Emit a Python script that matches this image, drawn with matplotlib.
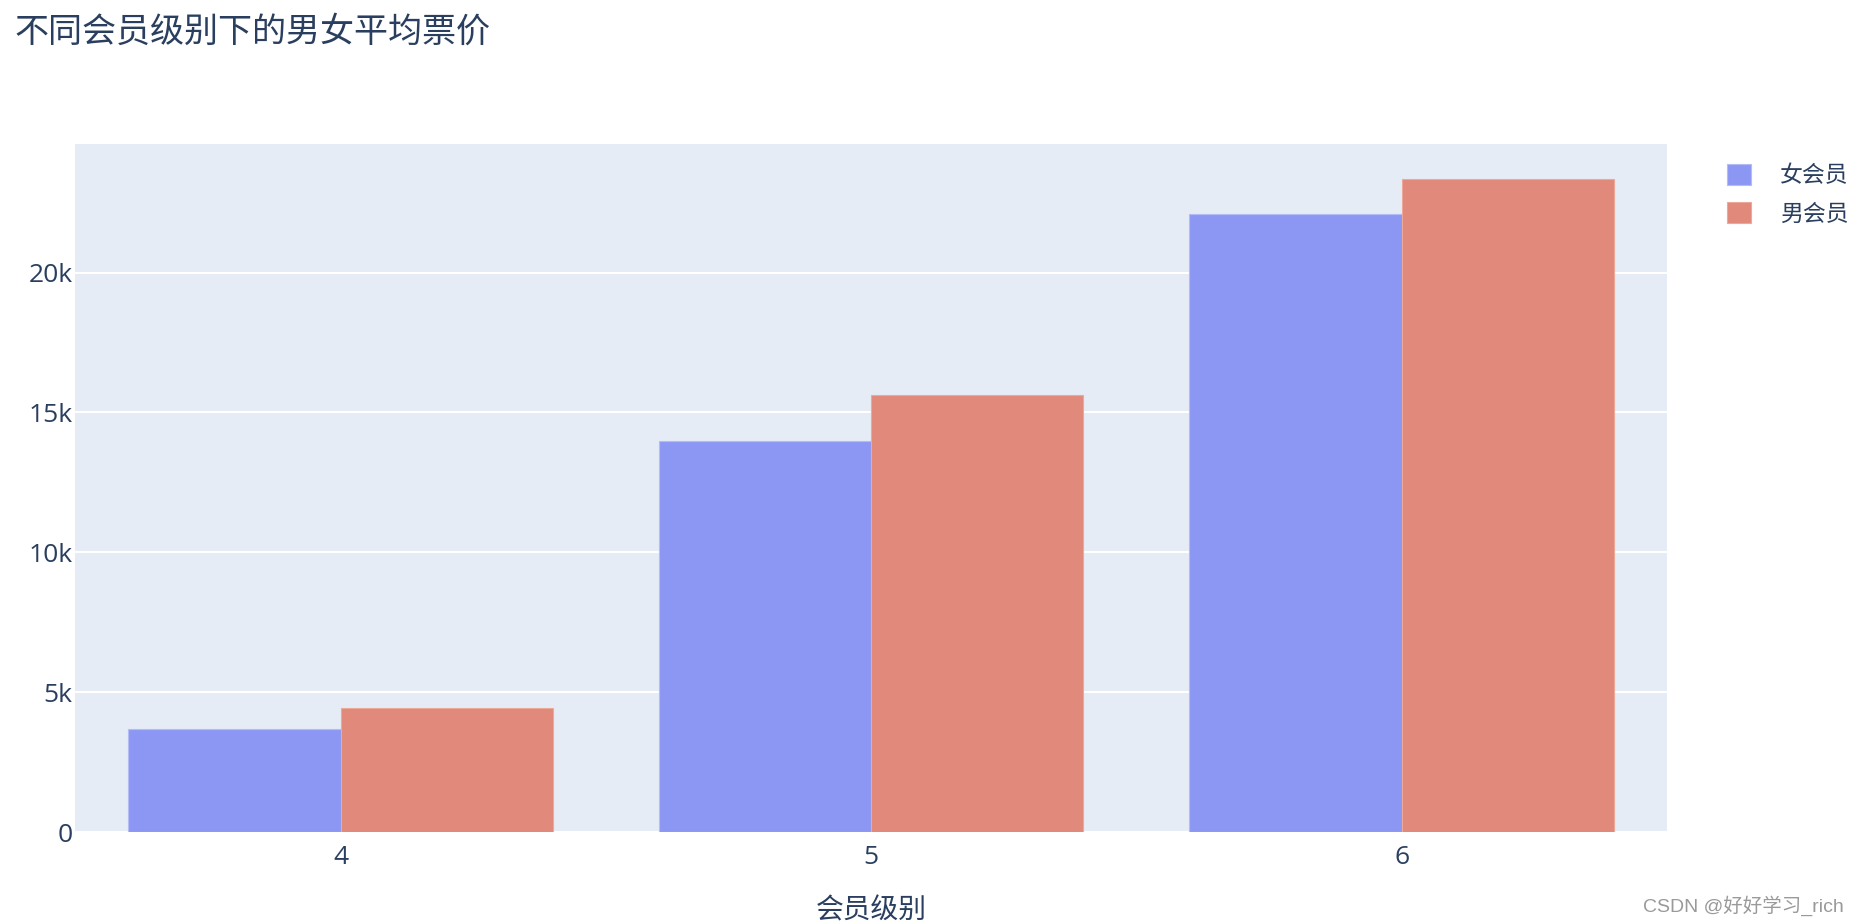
import matplotlib
matplotlib.use("Agg")
import matplotlib.pyplot as plt
import numpy as np

# data
levels = [4, 5, 6]
female_price = [3690, 13980, 22100]
male_price = [4450, 15630, 23350]
series_names = ["女会员", "男会员"]
y_ticks = [0, 5000, 10000, 15000, 20000]
y_tick_labels = ["0", "5k", "10k", "15k", "20k"]

FONT = ["Open Sans", "Noto Sans CJK SC", "DejaVu Sans"]
plt.rcParams["font.family"] = FONT
INK = "#2a3f5f"
BG = "#E5ECF6"
W, H = 1859, 924

fig = plt.figure(figsize=(W / 100, H / 100), dpi=100)
ax = fig.add_axes([75.3 / W, (H - 832) / H, (1667 - 75.3) / W, (832 - 143.7) / H])
ax.set_facecolor(BG)

w = 0.4
x = np.array(levels, dtype=float)
ax.bar(x - w, female_price, width=w, align="edge", color="#8B97F2",
       edgecolor="#B3BCF5", linewidth=0.8, label=series_names[0], zorder=3)
ax.bar(x, male_price, width=w, align="edge", color="#E1897A",
       edgecolor="#EDA899", linewidth=0.8, label=series_names[1], zorder=3)

ax.set_xlim(3.5, 6.5)
ax.set_ylim(0, 24611)
ax.set_xticks(levels)
ax.set_xticklabels([str(v) for v in levels])
ax.set_yticks(y_ticks)
ax.set_yticklabels(y_tick_labels)
ax.tick_params(axis="both", length=0, labelsize=19, colors=INK)
ax.tick_params(axis="y", pad=2)
ax.tick_params(axis="x", pad=9)
ax.grid(axis="y", color="white", linewidth=1.5, zorder=1)
ax.set_axisbelow(True)
for s in ax.spines.values():
    s.set_visible(False)

ax.set_xlabel("会员级别", fontsize=20, color=INK, labelpad=20)

fig.text(14 / W, 1 - 33 / H, "不同会员级别下的男女平均票价", fontsize=24.5,
         color=INK, va="center", ha="left")

leg = ax.legend(loc="upper left", bbox_to_anchor=(1727 / W, 1 - 164 / H),
                bbox_transform=fig.transFigure, frameon=False, fontsize=16.5,
                handlelength=1.05, handleheight=1.0, handletextpad=1.27,
                labelspacing=0.62, labelcolor=INK, borderaxespad=0, borderpad=0)

fig.text(1844 / W, 1 - 906 / H, "CSDN @好好学习_rich", fontsize=14,
         family=["Liberation Sans", "Noto Sans CJK SC"],
         color="#9a9a9a", ha="right", va="center")

fig.savefig("out.png", dpi=100)
